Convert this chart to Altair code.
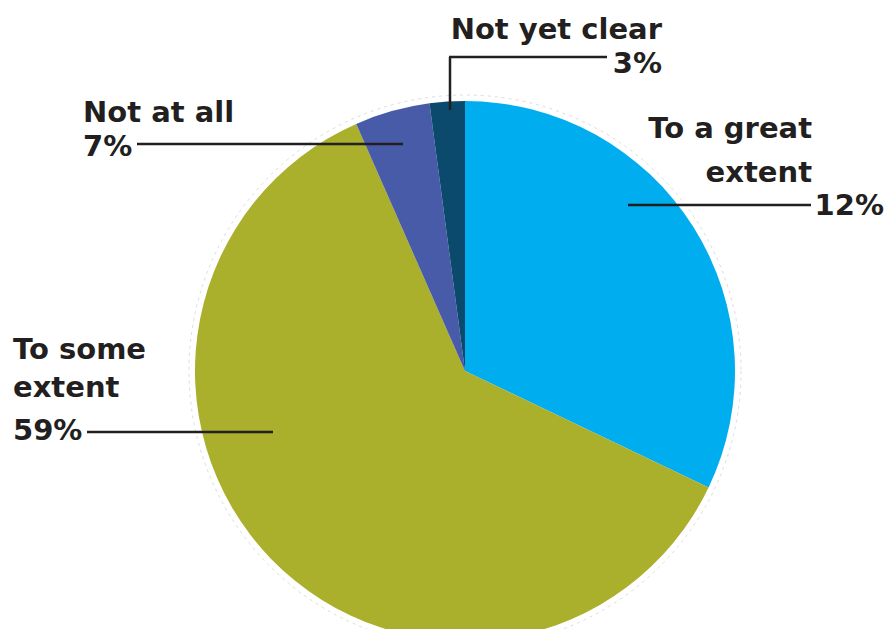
import altair as alt
import pandas as pd

# Data
categories = ["To a great extent", "To some extent", "Not at all", "Not yet clear"]
slice_shares = [32.1, 61.3, 4.5, 2.1]          # slice sizes as drawn
label_pcts = ["12%", "59%", "7%", "3%"]          # percentages printed in labels
colors = ["#00AEEF", "#AAAF2C", "#485BA9", "#0B4A6C"]

df = pd.DataFrame({
    "category": categories,
    "share": slice_shares,
    "order": list(range(len(categories))),
})

CX, CY, R = 457, 363, 270
FONT = "DejaVu Sans"
FS = 29
TXT = "#231F20"

base = alt.Chart(df)

outline = alt.Chart(pd.DataFrame({"v": [1]})).mark_point(
    shape="circle", filled=False, stroke="#dcdcdc", strokeWidth=1, strokeDash=[3, 4], opacity=1
).encode(x=alt.value(CX), y=alt.value(CY), size=alt.value((2 * 276) ** 2))

pie = base.mark_arc(radius=R, stroke=None).encode(
    theta=alt.Theta("share:Q", stack=True),
    color=alt.Color("category:N", scale=alt.Scale(domain=categories, range=colors), legend=None),
    order=alt.Order("order:Q"),
    x=alt.value(CX),
    y=alt.value(CY),
)

def txt(s, x, y, align):
    return alt.Chart(pd.DataFrame({"t": [s]})).mark_text(
        font=FONT, fontSize=FS, fontWeight="bold", color=TXT, align=align, baseline="alphabetic"
    ).encode(text="t:N", x=alt.value(x), y=alt.value(y))

def hrule(x1, x2, y):
    return alt.Chart(pd.DataFrame({"v": [1]})).mark_rule(color=TXT, strokeWidth=2.5).encode(
        x=alt.value(x1), x2=alt.value(x2), y=alt.value(y))

def vrule(x, y1, y2):
    return alt.Chart(pd.DataFrame({"v": [1]})).mark_rule(color=TXT, strokeWidth=2.5).encode(
        x=alt.value(x), y=alt.value(y1), y2=alt.value(y2))

o = 8  # page margin offset
layers = [outline, pie,
    # Not yet clear
    txt("Not yet clear", 662 - o, 39 - o, "right"),
    txt(label_pcts[3], 662 - o, 73 - o, "right"),
    hrule(449 - o, 607 - o, 57 - o),
    vrule(450 - o, 57 - o, 110 - o),
    # Not at all
    txt("Not at all", 83 - o, 122 - o, "left"),
    txt(label_pcts[2], 83 - o, 156 - o, "left"),
    hrule(137 - o, 403 - o, 144 - o),
    # To a great extent
    txt("To a great", 812 - o, 138 - o, "right"),
    txt("extent", 812 - o, 182 - o, "right"),
    txt(label_pcts[0], 884 - o, 215 - o, "right"),
    hrule(628 - o, 811 - o, 205 - o),
    # To some extent
    txt("To some", 13 - o, 359 - o, "left"),
    txt("extent", 13 - o, 397 - o, "left"),
    txt(label_pcts[1], 13 - o, 440 - o, "left"),
    hrule(87 - o, 273 - o, 432 - o),
]

chart = alt.layer(*layers).properties(
    width=876, height=621, padding=0,
    autosize=alt.AutoSizeParams(type="none"),
).configure_view(stroke=None)

chart.save("out.html", embed_options={"renderer": "svg", "actions": False})
